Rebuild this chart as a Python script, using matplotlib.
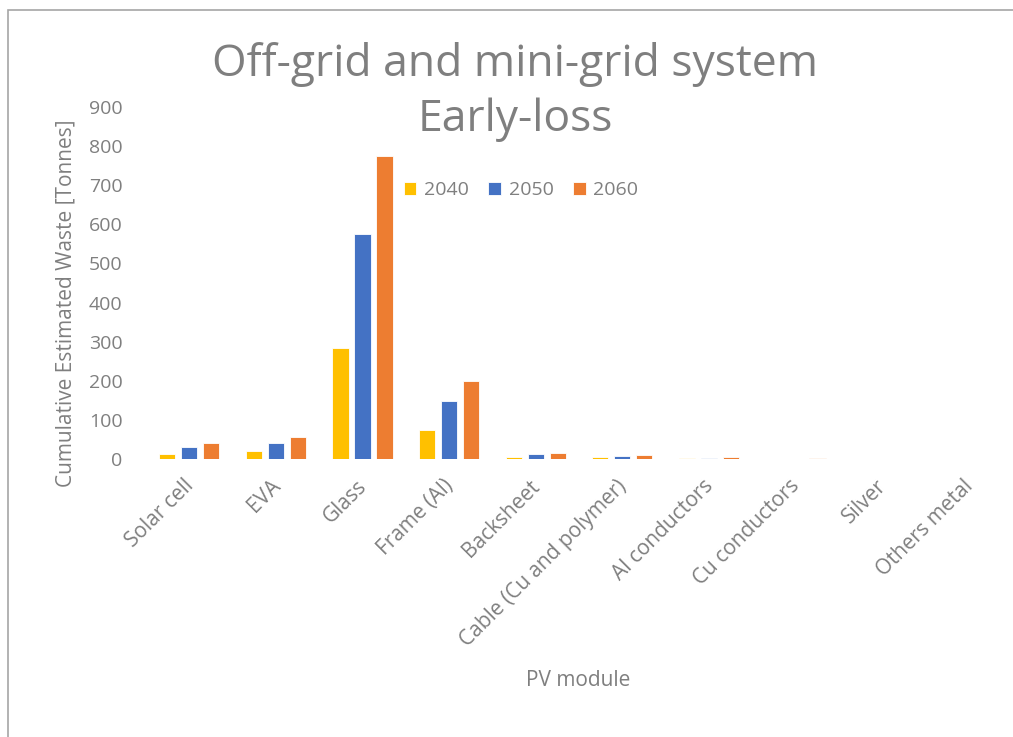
import numpy as np
import matplotlib.pyplot as plt
from matplotlib.patches import Rectangle
from matplotlib.transforms import ScaledTranslation

# ── Data ──────────────────────────────────────────────────────────────────────
categories = ['Solar cell', 'EVA', 'Glass', 'Frame (Al)', 'Backsheet',
              'Cable (Cu and polymer)', 'Al conductors', 'Cu conductors',
              'Silver', 'Others metal']
y2040 = [14, 20, 284, 74, 6, 4, 2, 1, 0.5, 0.5]
y2050 = [30, 42, 575, 148, 12, 8, 3, 1, 0.5, 0.5]
y2060 = [40, 57, 775, 200, 16, 11, 5, 1.5, 0.7, 0.7]
series = [('2040', y2040, '#FFC000'),
          ('2050', y2050, '#4472C4'),
          ('2060', y2060, '#ED7D31')]
yticks = np.arange(0, 1000, 100)

plt.rcParams['font.family'] = ['Open Sans', 'DejaVu Sans']
grey = '#7F7F7F'

W, H = 1013, 737
fig = plt.figure(figsize=(W / 100, H / 100), dpi=100)
ax = fig.add_axes([146/W, 278/H, 866/W, 352/H])

x = np.arange(len(categories))
w = 0.185
step = 0.254
for i, (lab, vals, col) in enumerate(series):
    ax.bar(x + (i - 1) * step, vals, width=w, color=col, label=lab,
           edgecolor='white', linewidth=0.6)

ax.set_xlim(-0.5, len(categories) - 0.5)
ax.set_ylim(0, 900)
ax.set_yticks(yticks)
ax.set_xticks(x)
ax.set_xticklabels(categories, rotation=45, ha='right', va='top',
                   rotation_mode='anchor', fontsize=15)
ax.tick_params(axis='both', length=0, colors=grey)
ax.tick_params(axis='y', pad=17, labelsize=14)
ax.tick_params(axis='x', pad=12)
shift = ScaledTranslation(-6/100, 0, fig.dpi_scale_trans)
for lbl in ax.get_xticklabels():
    lbl.set_transform(lbl.get_transform() + shift)
for s in ax.spines.values():
    s.set_visible(False)

ax.set_ylabel('Cumulative Estimated Waste [Tonnes]', fontsize=15, color=grey)
ax.yaxis.set_label_coords(-0.08, 0.443)
fig.text(578/W, 1 - 680/H, 'PV module', fontsize=15, color=grey,
         ha='center', va='center')

fig.text(515/W, 1 - 92/H, 'Off-grid and mini-grid system\nEarly-loss',
         fontsize=32, color=grey, ha='center', va='center', linespacing=1.32)

leg = ax.legend(loc='center', bbox_to_anchor=(0.433, 0.764), ncol=3,
                frameon=False, fontsize=14, handlelength=0.65, handleheight=0.65,
                handletextpad=0.4, columnspacing=1.0)
for t in leg.get_texts():
    t.set_color(grey)

# chart border like the Excel frame
fig.patches.append(Rectangle((8/W, -0.1), 1.2, 1.1 - 10/H,
                             transform=fig.transFigure, fill=False,
                             edgecolor='#A6A6A6', linewidth=1.2))

fig.savefig('out.png', dpi=100)
